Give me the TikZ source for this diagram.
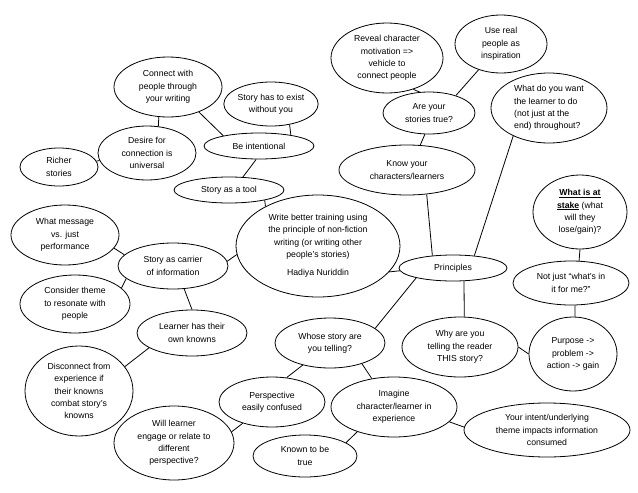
\documentclass[tikz,border=0pt]{standalone}
\usepackage{fontspec}
\setmainfont{Liberation Sans}
\usetikzlibrary{shapes.geometric}
\tikzset{
  bub/.style={draw, ellipse, line width=0.8pt, inner sep=0pt, align=center,
    font=\fontsize{8.7}{12.3}\selectfont},
  link/.style={line width=0.8pt},
}
\begin{document}
\begin{tikzpicture}[x=1pt,y=-1pt]
\fill[white] (0,0) rectangle (638,493);
\useasboundingbox (0,0) rectangle (638,493);

\node[bub, minimum width=108pt, minimum height=60pt] (connect) at (168,87) {Connect with\\people through\\your writing};
\node[bub, minimum width=88pt, minimum height=44pt] (exist) at (271,104) {Story has to exist\\without you};
\node[bub, minimum width=98pt, minimum height=54pt] (desire) at (147,153) {Desire for\\connection is\\universal};
\node[bub, minimum width=78pt, minimum height=38pt] (richer) at (59,167) {Richer\\stories};
\node[bub, minimum width=110pt, minimum height=26pt] (intent) at (259,146) {Be intentional};
\node[bub, minimum width=110pt, minimum height=26pt] (tool) at (229,190) {Story as a tool};
\node[bub, minimum width=108pt, minimum height=60pt] (message) at (65,235) {What message\\vs. just\\performance};
\node[bub, minimum width=164pt, minimum height=102pt] (central) at (318,246) {Write better training using\\the principle of non-fiction\\writing (or writing other\\people’s stories)\\[6pt]Hadiya Nuriddin};
\node[bub, minimum width=110pt, minimum height=46pt] (carrier) at (173,266) {Story as carrier\\of information};
\node[bub, minimum width=110pt, minimum height=58pt] (theme) at (75,304) {Consider theme\\to resonate with\\people};
\node[bub, minimum width=110pt, minimum height=46pt] (learner) at (192,333) {Learner has their\\own knowns};
\node[bub, minimum width=108pt, minimum height=90pt] (disconnect) at (79,391) {Disconnect from\\experience if\\their knowns\\combat story’s\\knowns};
\node[bub, minimum width=106pt, minimum height=50pt] (persp) at (272,402) {Perspective\\easily confused};
\node[bub, minimum width=120pt, minimum height=74pt] (will) at (174,443) {Will learner\\engage or relate to\\different\\perspective?};
\node[bub, minimum width=104pt, minimum height=42pt] (known) at (305,456) {Known to be\\true};
\node[bub, minimum width=110pt, minimum height=50pt] (whose) at (330,343) {Whose story are\\you telling?};
\node[bub, minimum width=126pt, minimum height=60pt] (imagine) at (394,407) {Imagine\\character/learner in\\experience};
\node[bub, minimum width=166pt, minimum height=54pt] (yourintent) at (547,430) {Your intent/underlying\\theme impacts information\\consumed};
\node[bub, minimum width=116pt, minimum height=60pt] (why) at (460,347) {Why are you\\telling the reader\\THIS story?};
\node[bub, minimum width=88pt, minimum height=74pt] (purpose) at (573,354) {Purpose ->\\problem ->\\action -> gain};
\node[bub, minimum width=108pt, minimum height=26pt] (principles) at (453,268) {Principles};
\node[bub, minimum width=116pt, minimum height=44pt] (notjust) at (571,283) {Not just “what’s in\\it for me?”};
\node[bub, minimum width=94pt, minimum height=74pt] (stake) at (580,212) {\textbf{\underline{What is at}}\\\textbf{\underline{stake}} (what\\will they\\lose/gain)?};
\node[bub, align=left, minimum width=116pt, minimum height=70pt] (want) at (549,108) {What do you want\\the learner to do\\(not just at the\\end) throughout?};
\node[bub, minimum width=92pt, minimum height=58pt] (usereal) at (501,44) {Use real\\people as\\inspiration};
\node[bub, minimum width=112pt, minimum height=70pt] (reveal) at (387,58) {Reveal character\\motivation =>\\vehicle to\\connect people};
\node[bub, minimum width=92pt, minimum height=42pt] (aretrue) at (429,113) {Are your\\stories true?};
\node[bub, minimum width=136pt, minimum height=50pt] (know) at (407,170) {Know your\\characters/learners};

\draw[link] (connect.253) -- (desire.67);
\draw[link] (connect.-39) -- (intent.164);
\draw[link] (exist.-48) -- (intent.19);
\draw[link] (desire) -- (richer);
\draw[link] (intent.-102) -- (tool.43);
\draw[link] (tool.-16) -- (central.143);
\draw[link] (message.-15) -- (carrier.167);
\draw[link] (carrier.195) -- (theme.19);
\draw[link] (carrier.5) -- (central.186);
\draw[link] (carrier.-64) -- (learner.90);
\draw[link] (learner.199) -- (disconnect.28);
\draw[link] (central.-20) -- (principles.183);
\draw[link] (principles.149) -- (know.-51);
\draw[link] (principles.30) -- (want.218);
\draw[link] (principles.195) -- (whose.18);
\draw[link] (principles.-50) -- (why.82);
\draw[link] (why.0) -- (purpose.180);
\draw[link] (purpose.87) -- (notjust.-80);
\draw[link] (notjust.70) -- (stake.270);
\draw[link] (whose.219) -- (persp.59);
\draw[link] (whose.-33) -- (imagine.128);
\draw[link] (persp.216) -- (will.11);
\draw[link] (imagine.214) -- (known.18);
\draw[link] (imagine.-15) -- (yourintent.178);
\draw[link] (aretrue.259) -- (know.62);
\draw[link] (reveal.-50) -- (aretrue.114);
\draw[link] (usereal.229) -- (aretrue.33);
\end{tikzpicture}
\end{document}
